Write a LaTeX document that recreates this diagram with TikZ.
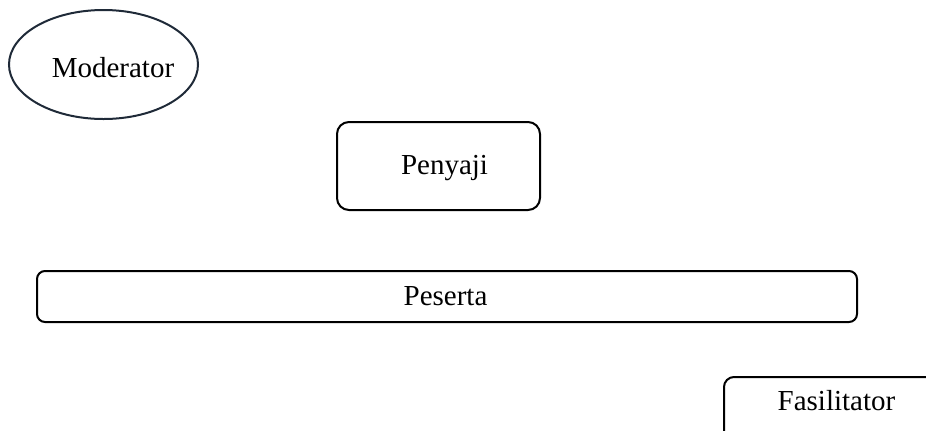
\documentclass[tikz,border=0pt]{standalone}
\usepackage{fontspec}
\setmainfont{Liberation Serif}
\usetikzlibrary{shapes.geometric}
\definecolor{rimnavy}{HTML}{1F2A38}
\begin{document}
\begin{tikzpicture}[x=0.5pt,y=-0.5pt,
    font=\fontsize{14.5}{17}\selectfont,
    box/.style={draw,line width=1pt,rounded corners=#1,inner sep=0pt},
    oval/.style={draw=rimnavy,line width=1pt,ellipse,inner sep=0pt},
    txt/.style={anchor=base,inner sep=0pt}]
  \useasboundingbox (0,0) rectangle (926,430);
  \clip (0,0) rectangle (926,430);
  % shapes
  \node[oval,minimum width=94.5pt,minimum height=54.5pt] (mod) at (103.5,64.5) {};
  \node[box=6pt,minimum width=101.5pt,minimum height=44pt] (pen) at (438.5,166) {};
  \node[box=4pt,minimum width=410pt,minimum height=25.5pt] (pes) at (447,296.5) {};
  \node[box=5pt,minimum width=130pt,minimum height=50pt,anchor=north west] (fas) at (723,376) {};
  % texts
  \node[txt] (modtxt) at (113,77) {Moderator};
  \node[txt] (pentxt) at (444.5,174) {Penyaji};
  \node[txt] (pestxt) at (445.5,305.5) {Peserta};
  \node[txt] (fastxt) at (836.5,410) {Fasilitator};
\end{tikzpicture}
\end{document}
